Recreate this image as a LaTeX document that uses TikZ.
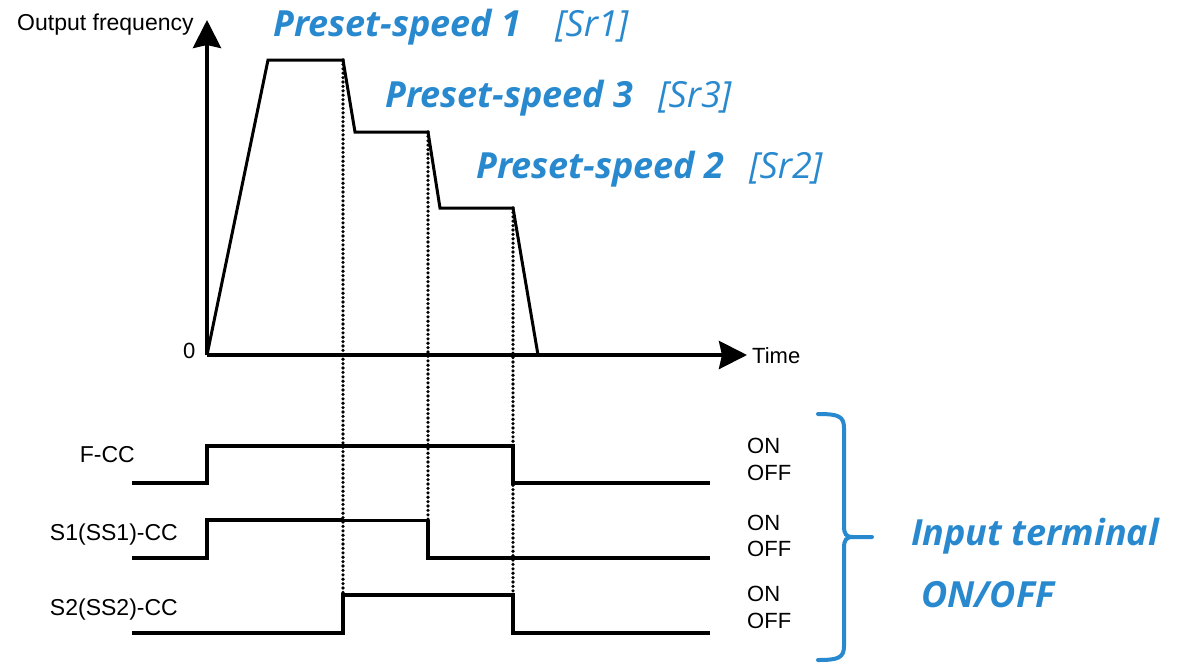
\documentclass[tikz,border=0pt]{standalone}
\usepackage{fontspec}
\newfontfamily\arialf{Liberation Sans}
\newfontfamily\bluef{Open Sans}
\usetikzlibrary{arrows.meta}
\definecolor{tblue}{RGB}{41,137,206}
\tikzset{
  lbl/.style={inner sep=0pt, font=\arialf\fontsize{22}{22}\selectfont},
  sig/.style={line width=4pt, line join=miter},
  curve/.style={line width=3pt, line join=miter},
  axis/.style={line width=4pt, -{Stealth[length=28pt,width=28pt,inset=3pt]}},
  guide/.style={line width=3.6pt, line cap=round, dash pattern=on 0pt off 4.4pt},
  ttl/.style={inner sep=0pt, text=tblue, font=\bluef\fontsize{36}{36}\selectfont\bfseries\itshape},
  tag/.style={inner sep=0pt, text=tblue, font=\bluef\fontsize{36}{36}\selectfont\itshape},
  brace/.style={draw=tblue, line width=4pt, line cap=round}
}
\begin{document}
\begin{tikzpicture}[x=1pt,y=-1pt]
\useasboundingbox (0,0) rectangle (1180,662);
% axes
\coordinate (O) at (207,355);
\coordinate (ytip) at (207,20);
\coordinate (xtip) at (747,355);
\draw[axis] (O) -- (ytip);
\draw[axis] (O) -- (xtip);
% frequency curve
\coordinate (c1) at (268,60);
\coordinate (c2) at (343,60);
\coordinate (c3) at (355,132);
\coordinate (c4) at (428,132);
\coordinate (c5) at (440,208);
\coordinate (c6) at (513,208);
\coordinate (c7) at (538,355);
\draw[curve] (O) -- (c1) -- (c2) -- (c3) -- (c4) -- (c5) -- (c6) -- (c7);
% signals
\coordinate (f0) at (132,483); \coordinate (f1) at (207,483); \coordinate (f2) at (207,446);
\coordinate (f3) at (513,446); \coordinate (f4) at (513,483); \coordinate (f5) at (710,483);
\draw[sig] (f0) -- (f1) -- (f2) -- (f3) -- (f4) -- (f5);
\coordinate (a0) at (132,558); \coordinate (a1) at (207,558); \coordinate (a2) at (207,520);
\coordinate (a3) at (343,520); \coordinate (a4) at (428,520); \coordinate (a5) at (428,558); \coordinate (a6) at (710,558);
\draw[sig] (a0) -- (a1) -- (a2) -- (a3);
\draw[line width=3pt] (a3) -- (a4);
\draw[sig] (a4) -- (a5) -- (a6);
\coordinate (b0) at (132,633); \coordinate (b1) at (343,633); \coordinate (b2) at (343,595);
\coordinate (b3) at (513,595); \coordinate (b4) at (513,633); \coordinate (b5) at (710,633);
\draw[sig] (b0) -- (b1) -- (b2) -- (b3) -- (b4) -- (b5);
% guides
\draw[guide] (c2) -- (b2);
\draw[guide] (c4) -- (a4);
\draw[guide] (c6) -- (b4);
% labels
\node[lbl, anchor=base west, font=\arialf\fontsize{23}{23}\selectfont] (yl) at (17,30) {Output frequency};
\node[lbl, anchor=base west] (zero) at (183,358) {0};
\node[lbl, anchor=base west] (tl) at (752,363) {Time};
\node[lbl, anchor=base east, font=\arialf\fontsize{23}{23}\selectfont] (fcc) at (135,462) {F-CC};
\node[lbl, anchor=base east, font=\arialf\fontsize{23}{23}\selectfont] (s1cc) at (178,540) {S1(SS1)-CC};
\node[lbl, anchor=base east, font=\arialf\fontsize{23}{23}\selectfont] (s2cc) at (178,615) {S2(SS2)-CC};
\node[lbl, anchor=base west] (on1) at (747,453) {ON};
\node[lbl, anchor=base west] (off1) at (747,480) {OFF};
\node[lbl, anchor=base west] (on2) at (747,530) {ON};
\node[lbl, anchor=base west] (off2) at (747,556) {OFF};
\node[lbl, anchor=base west] (on3) at (747,601) {ON};
\node[lbl, anchor=base west] (off3) at (747,628) {OFF};
% blue titles
\node[ttl, anchor=base west] (p1) at (273,36) {Preset-speed 1};
\node[tag, anchor=base west] (t1) at (555,36) {[Sr1]};
\node[ttl, anchor=base west] (p3) at (385,107) {Preset-speed 3};
\node[tag, anchor=base west] (t3) at (658,107) {[Sr3]};
\node[ttl, anchor=base west] (p2) at (476,178) {Preset-speed 2};
\node[tag, anchor=base west] (t2) at (749,178) {[Sr2]};
\node[ttl, anchor=base west] (it) at (911,545) {Input terminal};
\node[ttl, anchor=base west] (io) at (921,607) {ON/OFF};
% brace
\coordinate (br0) at (818,414);
\coordinate (brtip) at (872,537);
\coordinate (br1) at (818,660);
\draw[brace] (br0) .. controls (838,414) and (844,416) .. (844,428) -- (844,526)
  .. controls (844,534) and (846,537) .. (853,537) -- (brtip);
\draw[brace] (853,537) .. controls (846,537) and (844,540) .. (844,548) -- (844,646)
  .. controls (844,658) and (838,660) .. (br1);
\end{tikzpicture}
\end{document}
